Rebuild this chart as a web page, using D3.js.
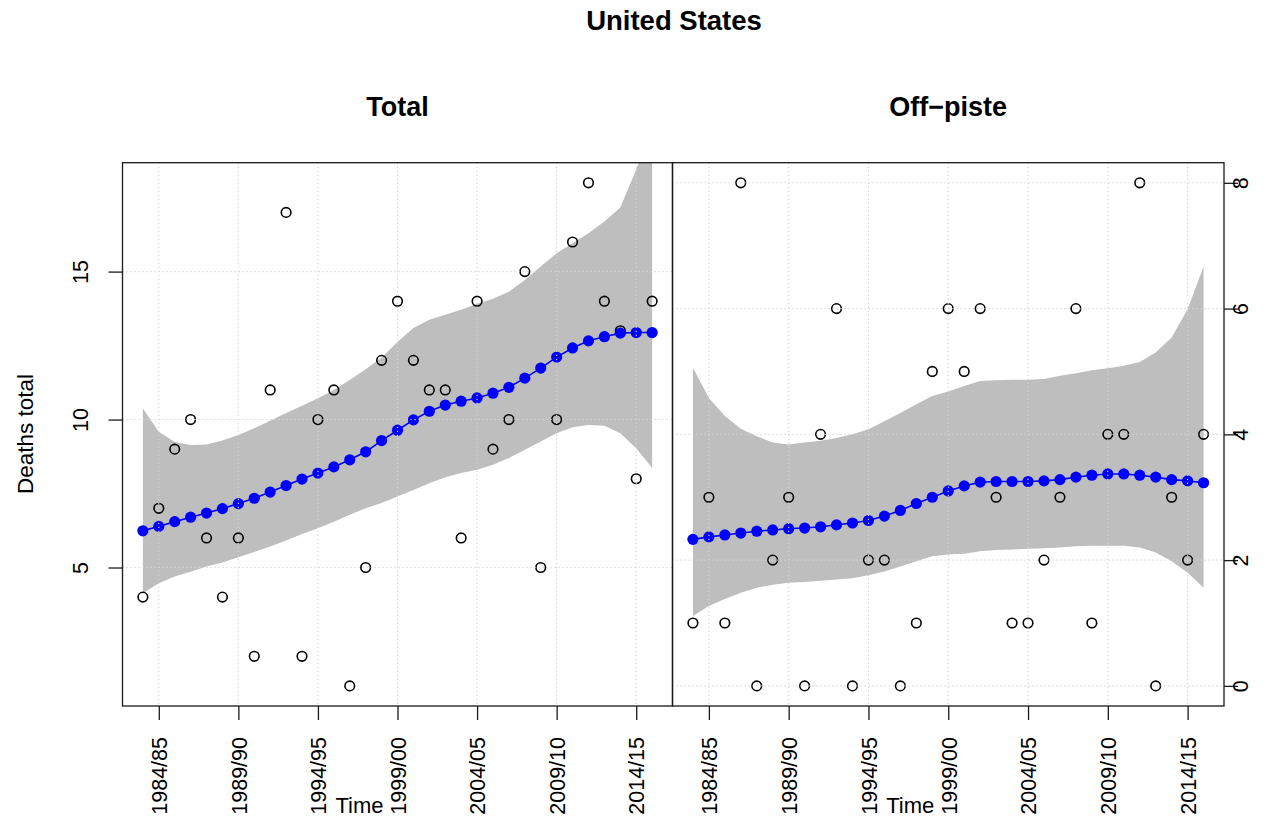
<!DOCTYPE html>
<html>
<head>
<meta charset="utf-8">
<title>United States – avalanche deaths</title>
<script src="https://cdn.jsdelivr.net/npm/d3@7"></script>
<style>
  html, body { margin: 0; padding: 0; background: #ffffff; }
  svg { display: block; font-family: "Liberation Sans", Arial, Helvetica, sans-serif; }
</style>
</head>
<body>
<svg id="chart" width="1283" height="825"></svg>
<script>
// Winter seasons covered by the series
const seasons = ["1983/84","1984/85","1985/86","1986/87","1987/88","1988/89","1989/90","1990/91",
  "1991/92","1992/93","1993/94","1994/95","1995/96","1996/97","1997/98","1998/99","1999/00",
  "2000/01","2001/02","2002/03","2003/04","2004/05","2005/06","2006/07","2007/08","2008/09",
  "2009/10","2010/11","2011/12","2012/13","2013/14","2014/15","2015/16"];

// Labelled seasons on the time axis
const timeTicks = ["1984/85","1989/90","1994/95","1999/00","2004/05","2009/10","2014/15"];

// Observed deaths per season
const totalDeaths = [4,7,9,10,6,4,6,2,11,17,2,10,11,1,5,12,14,12,11,11,6,14,9,10,15,5,10,16,18,14,13,8,14];
const offPisteDeaths = [1,3,1,8,0,2,3,0,4,6,0,2,2,0,1,5,6,5,6,3,1,1,2,3,6,1,4,4,8,0,3,2,4];

// Smoothed trend with confidence band, total deaths
const totalFit = [6.24,6.39,6.55,6.70,6.84,6.99,7.16,7.34,7.55,7.77,7.99,8.19,8.40,8.64,8.91,9.29,9.64,
  9.99,10.28,10.49,10.62,10.73,10.89,11.09,11.40,11.74,12.11,12.42,12.66,12.80,12.92,12.94,12.94];
const totalUpper = [10.37,9.59,9.24,9.14,9.16,9.29,9.48,9.71,9.96,10.22,10.47,10.72,11.00,11.34,11.70,
  12.10,12.62,13.09,13.37,13.54,13.71,13.91,14.08,14.32,14.72,15.17,15.62,15.96,16.30,16.69,17.17,18.45,20.0];
const totalLower = [4.13,4.47,4.70,4.86,5.03,5.17,5.35,5.52,5.71,5.91,6.13,6.33,6.55,6.78,7.00,7.18,7.40,
  7.62,7.85,8.05,8.19,8.30,8.47,8.70,8.98,9.26,9.54,9.74,9.82,9.79,9.54,9.03,8.36];

// Smoothed trend with confidence band, off-piste deaths
const offPisteFit = [2.33,2.37,2.40,2.43,2.46,2.48,2.50,2.51,2.53,2.56,2.59,2.63,2.70,2.79,2.90,3.00,3.10,
  3.18,3.24,3.25,3.25,3.25,3.26,3.28,3.32,3.35,3.37,3.37,3.35,3.32,3.28,3.26,3.23];
const offPisteUpper = [5.06,4.58,4.29,4.09,3.97,3.87,3.84,3.87,3.90,3.94,4.00,4.08,4.21,4.34,4.48,4.61,4.68,
  4.77,4.85,4.86,4.87,4.87,4.88,4.93,4.97,5.02,5.05,5.09,5.15,5.30,5.54,5.99,6.67];
const offPisteLower = [1.11,1.27,1.38,1.48,1.56,1.61,1.64,1.65,1.67,1.69,1.71,1.76,1.82,1.90,1.98,2.06,2.09,
  2.10,2.14,2.16,2.17,2.18,2.19,2.20,2.22,2.23,2.23,2.23,2.20,2.12,1.98,1.80,1.56];

const totalTicks = [5, 10, 15];
const offPisteTicks = [0, 2, 4, 6, 8];

const svg = d3.select("#chart");
const W = 1283, H = 825;
svg.append("rect").attr("width", W).attr("height", H).attr("fill", "#fff");

const plotTop = 162.7, plotBottom = 706;
const startYear = s => +s.slice(0, 4);
const firstYear = startYear(seasons[0]);
const lastYear = startYear(seasons[seasons.length - 1]);
const pad = (lastYear - firstYear) * 0.04;

const panels = [
  { title: "Total", x0: 122.5, x1: 672.5, obs: totalDeaths, fit: totalFit, lo: totalLower, hi: totalUpper,
    ticks: totalTicks, side: "left", ymin: 1, ymax: 18 },
  { title: "Off\u2212piste", x0: 672.5, x1: 1224, obs: offPisteDeaths, fit: offPisteFit, lo: offPisteLower, hi: offPisteUpper,
    ticks: offPisteTicks, side: "right", ymin: 0, ymax: 8 }
];

const ink = "#1a1a1a";

panels.forEach((p, k) => {
  const x = d3.scaleLinear().domain([firstYear - pad, lastYear + pad]).range([p.x0, p.x1]);
  const yp = (p.ymax - p.ymin) * 0.04;
  const y = d3.scaleLinear().domain([p.ymin - yp, p.ymax + yp]).range([plotBottom, plotTop]);

  const g = svg.append("g");
  const clipId = "clip" + k;
  svg.append("defs").append("clipPath").attr("id", clipId)
    .append("rect").attr("x", p.x0).attr("y", plotTop).attr("width", p.x1 - p.x0).attr("height", plotBottom - plotTop);

  const rows = seasons.map((s, i) => ({ yr: startYear(s), obs: p.obs[i], fit: p.fit[i], lo: p.lo[i], hi: p.hi[i] }));

  // confidence band
  g.append("path")
    .attr("clip-path", `url(#${clipId})`)
    .attr("fill", "#bebebe")
    .attr("d", d3.area().x(d => x(d.yr)).y0(d => y(d.lo)).y1(d => y(d.hi))(rows));

  // observed counts
  g.selectAll("circle.obs").data(rows).join("circle")
    .attr("class", "obs")
    .attr("cx", d => x(d.yr)).attr("cy", d => y(d.obs)).attr("r", 4.8)
    .attr("fill", "none").attr("stroke", "#000").attr("stroke-width", 1.6);

  // trend line and points
  g.append("path")
    .attr("fill", "none").attr("stroke", "#0000ff").attr("stroke-width", 1.6)
    .attr("d", d3.line().x(d => x(d.yr)).y(d => y(d.fit))(rows));
  g.selectAll("circle.fit").data(rows).join("circle")
    .attr("class", "fit")
    .attr("cx", d => x(d.yr)).attr("cy", d => y(d.fit)).attr("r", 5.6)
    .attr("fill", "#0000ff");

  // dotted grid
  const grid = g.append("g").attr("stroke", "#d3d3d3").attr("stroke-width", 1.1)
    .attr("stroke-dasharray", "1.2,2.8").attr("fill", "none");
  timeTicks.forEach(t => {
    const xx = x(startYear(t));
    grid.append("line").attr("x1", xx).attr("x2", xx).attr("y1", plotTop).attr("y2", plotBottom);
  });
  p.ticks.forEach(t => {
    grid.append("line").attr("x1", p.x0).attr("x2", p.x1).attr("y1", y(t)).attr("y2", y(t));
  });

  // frame
  g.append("rect").attr("x", p.x0).attr("y", plotTop).attr("width", p.x1 - p.x0).attr("height", plotBottom - plotTop)
    .attr("fill", "none").attr("stroke", ink).attr("stroke-width", 1.3);

  // time axis
  const xAxis = d3.axisBottom(x)
    .tickValues(timeTicks.map(startYear))
    .tickFormat(v => timeTicks.find(t => startYear(t) === v))
    .tickSize(14).tickSizeOuter(0);
  const xa = g.append("g").attr("transform", `translate(0,${plotBottom})`).call(xAxis);
  xa.select(".domain").remove();
  xa.selectAll(".tick line").attr("stroke", ink).attr("stroke-width", 1.3);
  xa.selectAll(".tick text")
    .attr("fill", "#000").attr("font-size", "21.5px")
    .attr("text-anchor", "end")
    .attr("transform", "translate(0,31) rotate(-90)")
    .attr("x", 0).attr("y", 0).attr("dy", "0.36em");

  // count axis
  const yAxis = (p.side === "left" ? d3.axisLeft(y) : d3.axisRight(y))
    .tickValues(p.ticks).tickSize(14).tickSizeOuter(0).tickFormat(d3.format("d"));
  const ya = g.append("g").attr("transform", `translate(${p.side === "left" ? p.x0 : p.x1},0)`).call(yAxis);
  ya.select(".domain").remove();
  ya.selectAll(".tick line").attr("stroke", ink).attr("stroke-width", 1.3);
  ya.selectAll(".tick text")
    .attr("fill", "#000").attr("font-size", "21.5px")
    .attr("text-anchor", "middle")
    .attr("x", 0).attr("y", 0).attr("dy", 0)
    .attr("transform", p.side === "left" ? "translate(-35,0) rotate(-90)" : "translate(24,0) rotate(-90)");

  // panel title and axis label
  svg.append("text").attr("x", (p.x0 + p.x1) / 2).attr("y", 116)
    .attr("text-anchor", "middle").attr("font-weight", "bold").attr("font-size", "27px")
    .text(p.title);
  svg.append("text").attr("x", (p.x0 + p.x1) / 2 - 38).attr("y", 813)
    .attr("text-anchor", "middle").attr("font-size", "22px").text("Time");
});

svg.append("text").attr("transform", "translate(33,434) rotate(-90)")
  .attr("text-anchor", "middle").attr("font-size", "22.5px").text("Deaths total");

svg.append("text").attr("x", 674).attr("y", 30)
  .attr("text-anchor", "middle").attr("font-weight", "bold").attr("font-size", "27.5px")
  .text("United States");
</script>
</body>
</html>
